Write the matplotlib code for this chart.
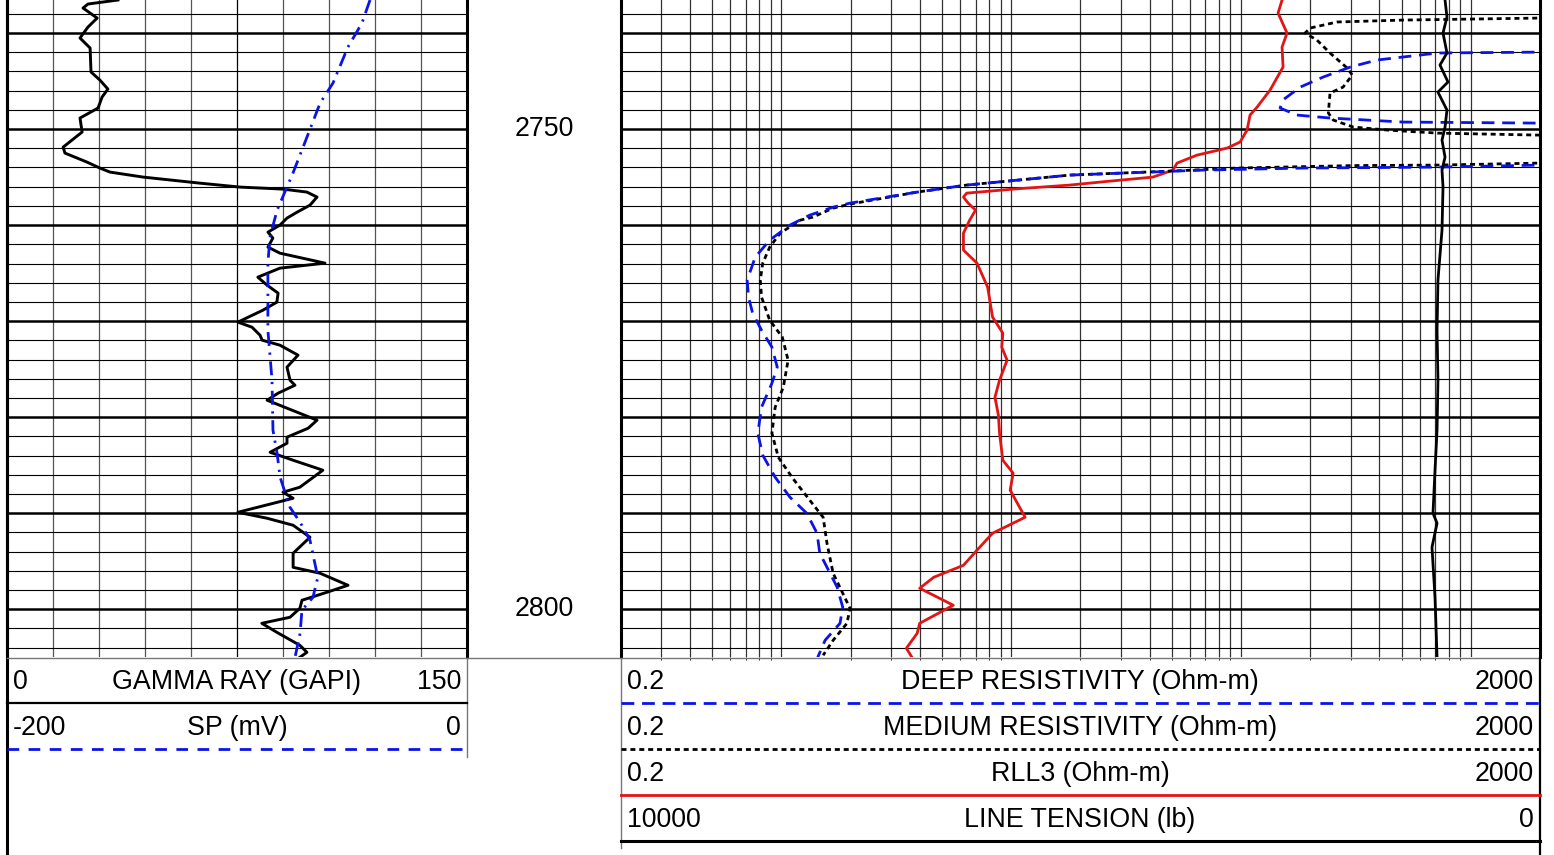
import matplotlib
matplotlib.use("Agg")
import numpy as np
import matplotlib.pyplot as plt
from matplotlib import transforms

plt.rcParams['font.family'] = ['Liberation Sans', 'DejaVu Sans']

# === Depth window (ft) ===
top_depth = 2736.56
base_depth = 2805.0
depth_labels = [2750, 2800]

# === Gamma ray (GAPI) ===
gr_depth = [2736.56, 2736.98, 2737.40, 2738.44, 2739.38, 2740.52, 2741.56, 2744.06, 2744.90,
            2745.83, 2746.67, 2747.81, 2748.85, 2750.31, 2751.88, 2752.50, 2753.44, 2754.06,
            2754.48, 2755.00, 2755.63, 2756.04, 2756.25, 2756.56, 2757.08, 2757.92, 2758.65,
            2759.27, 2760.00, 2760.73, 2761.35, 2762.29, 2762.92, 2763.96, 2764.48, 2765.42,
            2766.25, 2767.08, 2768.02, 2768.85, 2770.10, 2770.63, 2771.46, 2771.98, 2772.50,
            2773.54, 2774.79, 2776.15, 2776.67, 2777.50, 2778.23, 2779.06, 2780.31, 2781.15,
            2782.08, 2782.71, 2783.65, 2784.48, 2785.52, 2787.29, 2787.81, 2788.44, 2789.90,
            2790.52, 2791.25, 2792.50, 2794.17, 2795.63, 2796.25, 2797.50, 2798.23, 2799.06,
            2799.90, 2800.83, 2801.46, 2802.40, 2803.75, 2804.48, 2805.00]
gr_api = [36.1, 26.3, 24.7, 29.3, 26.3, 23.7, 27.0, 27.3, 30.2,
          32.8, 30.9, 29.6, 23.7, 24.4, 18.2, 18.8, 26.0, 30.2,
          33.5, 44.3, 62.8, 75.9, 89.9, 97.7, 101.0, 98.7, 94.5,
          91.2, 88.9, 85.0, 86.6, 85.0, 88.9, 103.6, 88.9, 81.7,
          84.7, 88.3, 87.9, 83.4, 75.2, 79.8, 82.4, 83.1, 88.9,
          94.8, 91.2, 92.2, 93.8, 88.3, 84.7, 91.2, 101.0, 98.1,
          91.2, 91.2, 85.7, 93.2, 102.9, 95.4, 89.9, 93.2, 75.2,
          84.7, 93.2, 98.7, 93.2, 93.2, 102.0, 111.1, 104.2, 96.1,
          95.4, 92.2, 83.0, 87.9, 95.4, 97.7, 95.4]

# === SP (mV) ===
sp_depth = [2736.56, 2738.96, 2741.46, 2745.21, 2747.29, 2750.83, 2754.58, 2756.04, 2758.44,
            2761.25, 2763.96, 2770.94, 2776.15, 2781.35, 2783.75, 2786.25, 2789.38, 2790.94,
            2792.81, 2796.67, 2798.75, 2800.10, 2802.50, 2805.00]
sp_mv = [-42.3, -45.8, -51.9, -58.4, -64.0, -69.7, -75.8, -78.4, -82.7,
         -85.8, -86.7, -86.7, -84.9, -84.5, -82.7, -81.4, -77.1, -72.7,
         -68.4, -65.0, -67.1, -71.9, -72.7, -74.9]

# === RLL3 (Ohm-m) ===
rll3_depth = [2736.56, 2737.92, 2740.00, 2741.46, 2743.54, 2745.94, 2747.71, 2748.54, 2750.10,
              2751.35, 2751.98, 2752.71, 2753.54, 2754.27, 2755.00, 2755.42, 2755.83, 2756.25,
              2756.67, 2757.08, 2757.71, 2758.44, 2759.48, 2760.83, 2762.60, 2763.96, 2766.46,
              2769.58, 2771.25, 2772.71, 2774.06, 2776.15, 2777.92, 2779.79, 2781.67, 2784.48,
              2785.83, 2787.60, 2790.42, 2792.08, 2793.85, 2795.42, 2796.67, 2797.81, 2799.58,
              2801.46, 2802.50, 2804.06, 2805.00]
rll3_ohmm = [150.9, 145.0, 158.6, 150.9, 152.4, 133.8, 117.5, 109.5, 106.3,
             99.1, 87.0, 64.4, 52.7, 50.6, 41.4, 26.9, 18.0, 10.2,
             6.4, 6.2, 6.5, 7.0, 6.6, 6.2, 6.2, 7.1, 7.9,
             8.3, 9.2, 9.1, 9.6, 8.9, 8.5, 8.8, 8.9, 9.2,
             10.2, 9.9, 11.5, 8.3, 7.1, 6.2, 4.6, 4.0, 5.6,
             4.0, 3.9, 3.5, 3.7]

# === Deep resistivity (Ohm-m), values past 2000 run off scale ===
deep_depth = [2736.56, 2741.77, 2742.08, 2742.81, 2743.54, 2744.58, 2745.63, 2746.98, 2747.81,
              2748.54, 2748.85, 2749.27, 2749.38, 2749.48, 2753.65, 2753.75, 2753.96, 2754.06,
              2754.27, 2754.79, 2755.83, 2756.56, 2757.71, 2758.13, 2758.96, 2760.00, 2761.56,
              2763.33, 2765.73, 2767.50, 2769.17, 2770.94, 2772.71, 2774.79, 2776.46, 2778.96,
              2781.67, 2783.96, 2786.25, 2788.33, 2790.00, 2792.08, 2794.17, 2795.63, 2797.71,
              2799.79, 2801.46, 2803.23, 2805.00]
deep_ohmm = [20000, 20000, 716, 391, 299, 228, 181, 152, 148,
             175, 244, 508, 2000, 20000, 20000, 2000, 716, 187,
             68.4, 18.0, 6.4, 3.9, 1.99, 1.68, 1.33, 1.09, 0.89,
             0.77, 0.71, 0.72, 0.75, 0.82, 0.91, 0.96, 0.91, 0.82,
             0.79, 0.83, 0.94, 1.09, 1.29, 1.43, 1.47, 1.58, 1.75,
             1.85, 1.80, 1.55, 1.44]

# === Medium resistivity (Ohm-m) ===
med_depth = [2736.56, 2738.23, 2738.44, 2738.65, 2738.85, 2739.48, 2740.00, 2740.73, 2742.08,
             2743.65, 2744.38, 2745.63, 2746.25, 2748.33, 2749.06, 2749.79, 2750.10, 2750.42,
             2750.63, 2750.73, 2753.44, 2753.54, 2753.75, 2753.80, 2754.06, 2754.38, 2754.79,
             2755.83, 2756.56, 2757.81, 2758.23, 2759.17, 2759.48, 2760.83, 2762.29, 2763.96,
             2765.73, 2767.50, 2769.90, 2771.67, 2774.06, 2776.88, 2778.96, 2781.67, 2784.17,
             2786.35, 2788.65, 2790.42, 2793.13, 2796.25, 2798.33, 2799.90, 2801.46, 2803.23,
             2804.79]
med_ohmm = [20000, 20000, 2000, 508, 262, 200, 190, 214, 244,
            290, 305, 278, 244, 240, 252, 308, 433, 716,
            2000, 20000, 20000, 2000, 716, 308, 96, 49, 18.0,
            6.4, 3.9, 1.99, 1.68, 1.37, 1.21, 0.99, 0.89, 0.83,
            0.81, 0.82, 0.89, 1.01, 1.07, 1.02, 0.94, 0.91, 0.97,
            1.12, 1.33, 1.52, 1.58, 1.68, 1.85, 1.99, 1.93, 1.68,
            1.52]

# === Line tension (lb) ===
tens_depth = [2736.56, 2738.33, 2740.00, 2742.08, 2743.33, 2745.10, 2746.15, 2748.02, 2749.79,
              2751.15, 2752.92, 2754.27, 2756.04, 2760.52, 2765.73, 2770.94, 2776.15, 2781.35,
              2785.52, 2790.00, 2791.04, 2793.54, 2798.75, 2805.00]
tens_lb = [1033, 1012, 1055, 1012, 1088, 1001, 1110, 1012, 1033,
           1066, 1033, 1066, 1055, 1066, 1110, 1120, 1110, 1120,
           1142, 1164, 1120, 1175, 1142, 1120]

# === Header text ===
left_headers = [("0", "GAMMA RAY (GAPI)", "150"), ("-200", "SP (mV)", "0")]
right_headers = [("0.2", "DEEP RESISTIVITY (Ohm-m)", "2000"),
                 ("0.2", "MEDIUM RESISTIVITY (Ohm-m)", "2000"),
                 ("0.2", "RLL3 (Ohm-m)", "2000"),
                 ("10000", "LINE TENSION (lb)", "0")]

# === Styles ===
FS = 19.3
W, H = 1554, 855
deep_style = dict(color='#0a14e6', lw=2.0, ls=(0, (4.6, 2.8)))
med_style = dict(color='black', lw=2.0, ls=(0, (1.8, 1.4)))
rll3_style = dict(color='#e31414', lw=2.0, ls='-')
tens_style = dict(color='black', lw=2.0, ls='-')
gr_style = dict(color='black', lw=2.1, ls='-')
sp_style = dict(color='#0a14e6', lw=2.0, ls=(0, (5.0, 2.4, 0.8, 2.4)))


def box(x0, x1, y0, y1):
    return [x0 / W, 1 - y1 / H, (x1 - x0) / W, (y1 - y0) / H]


def depth_grid(ax):
    for d in range(2738, 2805, 2):
        thick = d % 10 == 0
        ax.axhline(d, color='black', lw=1.8 if thick else 0.8, zorder=1)


def clean(ax, keep_sides=True):
    ax.set_xticks([])
    ax.set_yticks([])
    ax.spines['top'].set_visible(False)
    ax.spines['bottom'].set_visible(False)
    for s in ('left', 'right'):
        ax.spines[s].set_visible(keep_sides)
        ax.spines[s].set_linewidth(2.2)


fig = plt.figure(figsize=(15.54, 8.55), dpi=100)

# --- left track: GR + SP ---
ax_gr = fig.add_axes(box(7.3, 467.3, 0, 657.3))
ax_gr.set_xlim(0, 150)
ax_gr.set_ylim(base_depth, top_depth)
for g in np.arange(15, 150, 15):
    ax_gr.axvline(g, color='#555555' if g != 75 else 'black', lw=0.9, zorder=1)
depth_grid(ax_gr)
ax_gr.plot(gr_api, gr_depth, zorder=4, solid_joinstyle='round', **gr_style)
clean(ax_gr)

ax_sp = ax_gr.twiny()
ax_sp.set_xlim(-200, 0)
ax_sp.plot(sp_mv, sp_depth, zorder=3, **sp_style)
clean(ax_sp, keep_sides=False)
ax_sp.patch.set_visible(False)

# --- right track: resistivities + tension ---
ax_rs = fig.add_axes(box(620.7, 1540, 0, 657.3))
ax_rs.set_xscale('log')
ax_rs.set_xlim(0.2, 2000)
ax_rs.set_ylim(base_depth, top_depth)
for dec in [0.1, 1, 10, 100, 1000]:
    for m in range(1, 10):
        v = dec * m
        if 0.2 < v < 2000:
            ax_rs.axvline(v, color='#333333', lw=0.9, zorder=1)
depth_grid(ax_rs)
ax_rs.plot(rll3_ohmm, rll3_depth, zorder=3, solid_joinstyle='round', **rll3_style)
ax_rs.plot(med_ohmm, med_depth, zorder=4, **med_style)
ax_rs.plot(deep_ohmm, deep_depth, zorder=4, **deep_style)
clean(ax_rs)

ax_tn = ax_rs.twiny()
ax_tn.set_xlim(10000, 0)
ax_tn.plot(tens_lb, tens_depth, zorder=3, solid_joinstyle='round', **tens_style)
clean(ax_tn, keep_sides=False)
ax_tn.patch.set_visible(False)

# --- depth labels between tracks ---
trans = transforms.blended_transform_factory(fig.transFigure, ax_gr.transData)
for d in depth_labels:
    fig.text(544 / W, d, str(d), transform=trans, ha='center', va='center', fontsize=FS)

# --- header area (pixel overlay) ---
hdr = fig.add_axes([0, 0, 1, 1], zorder=10)
hdr.set_xlim(0, W)
hdr.set_ylim(H, 0)
hdr.axis('off')
hdr.patch.set_visible(False)

hdr.plot([7.3, 7.3], [0, H], color='black', lw=2.2)
hdr.plot([7.3, 1540], [657.8, 657.8], color='#777777', lw=1.0)
hdr.plot([467.3, 467.3], [657.8, 757], color='#777777', lw=1.0)
hdr.plot([620.7, 620.7], [657.8, 848], color='#777777', lw=1.0)
hdr.plot([1540, 1540], [657.8, H], color='black', lw=1.6)

left_lines = [dict(color='black', lw=1.6, ls='-'),
              dict(color='#0a14e6', lw=2.0, ls=(0, (4.2, 3.4)))]
for i, (lo, name, hi) in enumerate(left_headers):
    yc = 682 + 46 * i
    hdr.text(13, yc, lo, ha='left', va='center', fontsize=FS)
    hdr.text(237, yc, name, ha='center', va='center', fontsize=FS)
    hdr.text(461, yc, hi, ha='right', va='center', fontsize=FS)
    hdr.plot([7.3, 467.3], [yc + 21, yc + 21], **left_lines[i])

right_lines = [deep_style, med_style, rll3_style, dict(color='black', lw=2.2, ls='-')]
for i, (lo, name, hi) in enumerate(right_headers):
    yc = 682 + 46 * i
    hdr.text(627, yc, lo, ha='left', va='center', fontsize=FS)
    hdr.text(1080, yc, name, ha='center', va='center', fontsize=FS)
    hdr.text(1534, yc, hi, ha='right', va='center', fontsize=FS)
    hdr.plot([620.7, 1540], [yc + 21, yc + 21], **right_lines[i])

fig.savefig('out.png', dpi=100, facecolor='white')
